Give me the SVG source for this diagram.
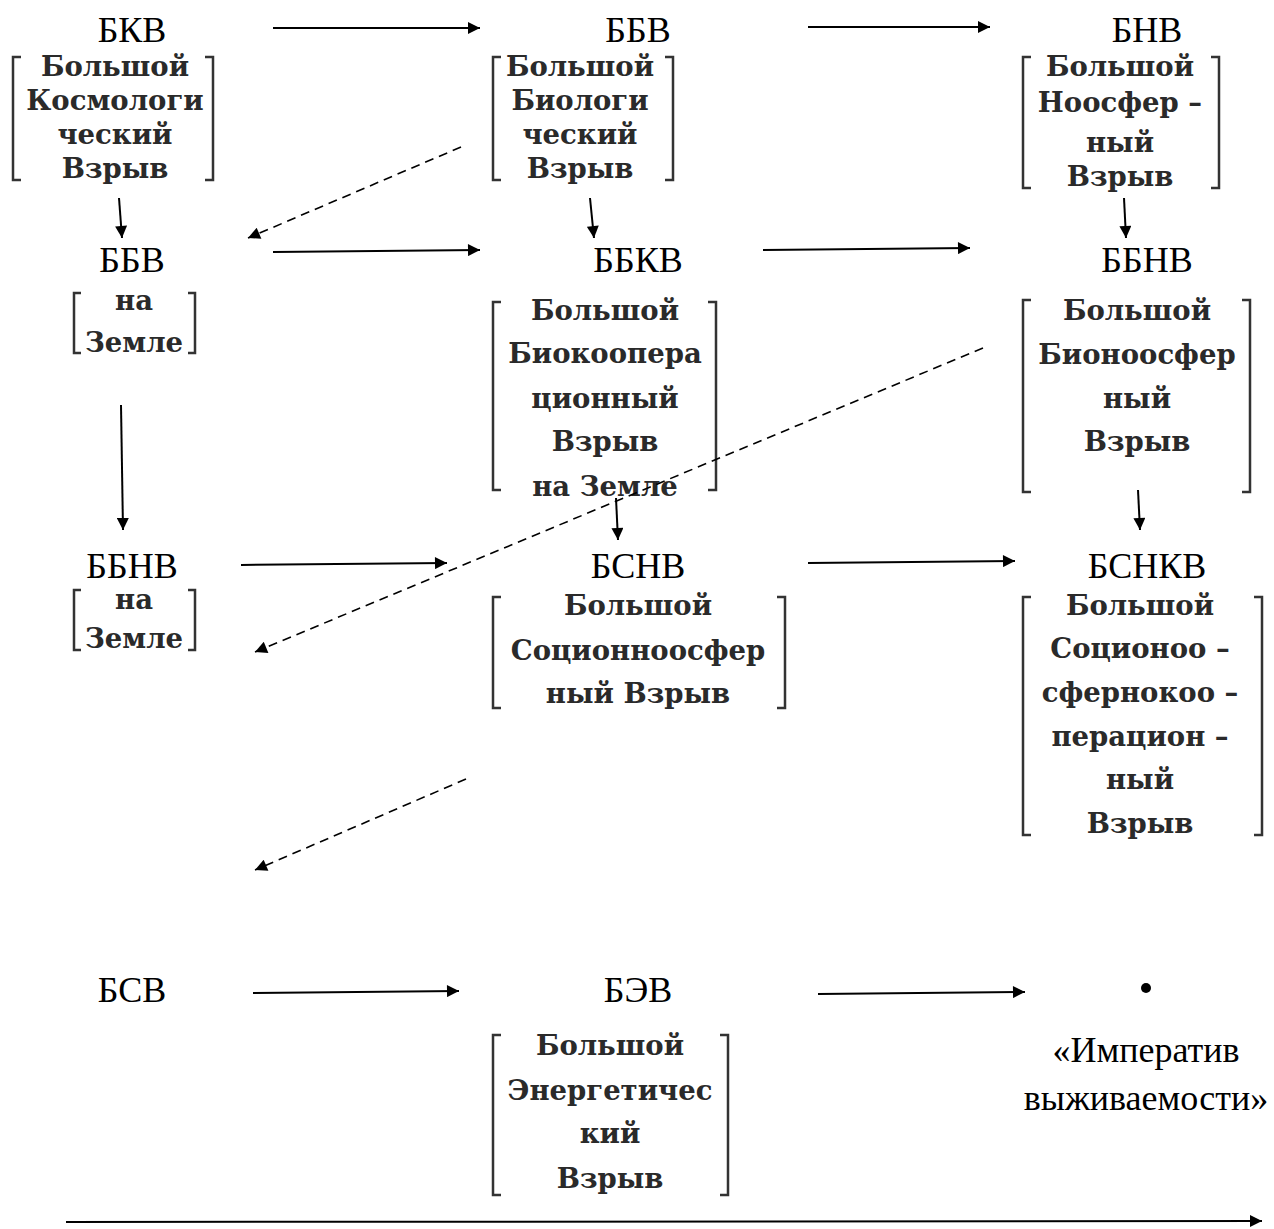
<svg xmlns="http://www.w3.org/2000/svg" width="1274" height="1229" viewBox="0 0 1274 1229">
<style>
.lbl{font-family:"Liberation Serif","Times New Roman",serif;font-size:36px;fill:#000;text-anchor:middle}
.bt{font-family:"DejaVu Serif","Liberation Serif",serif;font-weight:bold;font-size:27.5px;fill:#2a2a2a;text-anchor:middle}
.br{fill:none;stroke:#333;stroke-width:2.5}
.c{fill:none;stroke:#000;stroke-width:2;marker-end:url(#ah)}
.d{fill:none;stroke:#000;stroke-width:1.6;stroke-dasharray:9,6;marker-end:url(#ah)}
</style>
<defs>
<marker id="ah" viewBox="0 0 10 10" refX="10" refY="5" markerWidth="16" markerHeight="12" markerUnits="userSpaceOnUse" orient="auto">
<path d="M0,0 L10,5 L0,10 z" fill="#000"/>
</marker>
</defs>
<rect width="1274" height="1229" fill="#fff"/>

<g id="n-bkv">
<text class="lbl" x="132" y="42">БКВ</text>
<path class="br" d="M21,57 H13 V180 H21 M205,57 H213 V180 H205"/>
<text class="bt" x="115" y="76">Большой</text>
<text class="bt" x="115" y="110">Космологи</text>
<text class="bt" x="115" y="144">ческий</text>
<text class="bt" x="115" y="178">Взрыв</text>
</g>

<g id="n-bbv">
<text class="lbl" x="638" y="42">ББВ</text>
<path class="br" d="M501,57 H493 V180 H501 M665,57 H673 V180 H665"/>
<text class="bt" x="580" y="76">Большой</text>
<text class="bt" x="580" y="110">Биологи</text>
<text class="bt" x="580" y="144">ческий</text>
<text class="bt" x="580" y="178">Взрыв</text>
</g>

<g id="n-bnv">
<text class="lbl" x="1147" y="42">БНВ</text>
<path class="br" d="M1031,57 H1023 V188 H1031 M1211,57 H1219 V188 H1211"/>
<text class="bt" x="1120" y="76">Большой</text>
<text class="bt" x="1120" y="112">Ноосфер –</text>
<text class="bt" x="1120" y="152">ный</text>
<text class="bt" x="1120" y="186">Взрыв</text>
</g>

<g id="n-bbv-earth">
<text class="lbl" x="132" y="272">ББВ</text>
<path class="br" d="M81,293 H74 V353 H81 M188,293 H195 V353 H188"/>
<text class="bt" x="134" y="310">на</text>
<text class="bt" x="134" y="352">Земле</text>
</g>

<g id="n-bbkv">
<text class="lbl" x="638" y="272">ББКВ</text>
<path class="br" d="M501,302 H493 V490 H501 M708,302 H716 V490 H708"/>
<text class="bt" x="605" y="320">Большой</text>
<text class="bt" x="605" y="363">Биокоопера</text>
<text class="bt" x="605" y="408">ционный</text>
<text class="bt" x="605" y="451">Взрыв</text>
<text class="bt" x="605" y="496">на Земле</text>
</g>

<g id="n-bbnv">
<text class="lbl" x="1147" y="272">ББНВ</text>
<path class="br" d="M1031,300 H1023 V492 H1031 M1242,300 H1250 V492 H1242"/>
<text class="bt" x="1137" y="320">Большой</text>
<text class="bt" x="1137" y="364">Бионоосфер</text>
<text class="bt" x="1137" y="408">ный</text>
<text class="bt" x="1137" y="451">Взрыв</text>
</g>

<g id="n-bbnv-earth">
<text class="lbl" x="132" y="578">ББНВ</text>
<path class="br" d="M81,590 H74 V650 H81 M188,590 H195 V650 H188"/>
<text class="bt" x="134" y="609">на</text>
<text class="bt" x="134" y="648">Земле</text>
</g>

<g id="n-bsnv">
<text class="lbl" x="638" y="578">БСНВ</text>
<path class="br" d="M501,597 H493 V708 H501 M777,597 H785 V708 H777"/>
<text class="bt" x="638" y="615">Большой</text>
<text class="bt" x="638" y="660">Соционноосфер</text>
<text class="bt" x="638" y="703">ный Взрыв</text>
</g>

<g id="n-bsnkv">
<text class="lbl" x="1147" y="578">БСНКВ</text>
<path class="br" d="M1031,597 H1023 V835 H1031 M1254,597 H1262 V835 H1254"/>
<text class="bt" x="1140" y="615">Большой</text>
<text class="bt" x="1140" y="658">Соционоо –</text>
<text class="bt" x="1140" y="702">сфернокоо –</text>
<text class="bt" x="1140" y="746">перацион –</text>
<text class="bt" x="1140" y="789">ный</text>
<text class="bt" x="1140" y="833">Взрыв</text>
</g>

<g id="n-bsv">
<text class="lbl" x="132" y="1002">БСВ</text>
</g>

<g id="n-bev">
<text class="lbl" x="638" y="1002">БЭВ</text>
<path class="br" d="M501,1035 H493 V1195 H501 M720,1035 H728 V1195 H720"/>
<text class="bt" x="610" y="1055">Большой</text>
<text class="bt" x="610" y="1100">Энергетичес</text>
<text class="bt" x="610" y="1143">кий</text>
<text class="bt" x="610" y="1188">Взрыв</text>
</g>

<g id="n-imperative">
<circle cx="1146" cy="988" r="5" fill="#000"/>
<text class="lbl" x="1146" y="1062">«Императив</text>
<text class="lbl" x="1146" y="1110">выживаемости»</text>
</g>

<g id="connectors">
<path class="c" d="M273,28 L480,28"/>
<path class="c" d="M808,27 L990,27"/>
<path class="c" d="M119,198 L122,238"/>
<path class="c" d="M590,198 L594,238"/>
<path class="c" d="M1124,198 L1126,238"/>
<path class="c" d="M273,252 L480,250"/>
<path class="c" d="M763,250 L970,248"/>
<path class="c" d="M121,405 L123,530"/>
<path class="c" d="M616,498 L618,540"/>
<path class="c" d="M1138,490 L1140,530"/>
<path class="c" d="M241,565 L447,563"/>
<path class="c" d="M808,563 L1015,561"/>
<path class="c" d="M253,993 L459,991"/>
<path class="c" d="M818,994 L1025,992"/>
<path class="c" d="M66,1222 L1262,1221"/>
<path class="d" d="M461,147 L248,238"/>
<path class="d" d="M983,348 L255,652"/>
<path class="d" d="M466,779 L255,870"/>
</g>
</svg>
